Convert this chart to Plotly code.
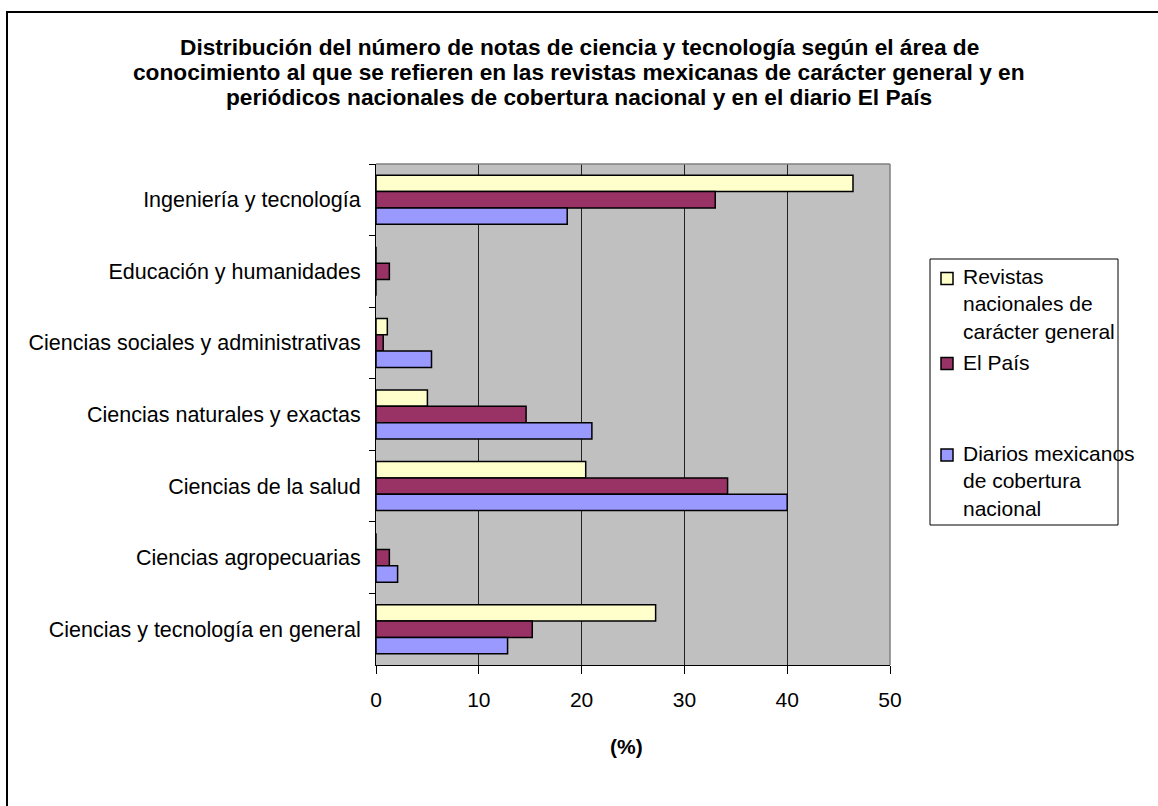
import plotly.graph_objects as go

categories = ["Ingeniería y tecnología", "Educación y humanidades",
              "Ciencias sociales y administrativas", "Ciencias naturales y exactas",
              "Ciencias de la salud", "Ciencias agropecuarias",
              "Ciencias y tecnología en general"]
revistas = [46.4, 0, 1.1, 5.0, 20.4, 0, 27.2]
el_pais = [33.0, 1.3, 0.7, 14.6, 34.2, 1.3, 15.2]
diarios = [18.6, 0, 5.4, 21.0, 40.0, 2.1, 12.8]
series_names = ["Revistas<br>nacionales de<br>carácter general", "El País",
                "Diarios mexicanos<br>de cobertura<br>nacional"]
series_colors = ["#FFFFCC", "#993366", "#9999FF"]
x_ticks = [0, 10, 20, 30, 40, 50]
title_lines = ["Distribución del número de notas de ciencia y tecnología según el área de",
               "conocimiento al que se refieren en las revistas mexicanas de carácter general y en",
               "periódicos nacionales de cobertura nacional y en el diario El País"]
x_title = "(%)"

W, H = 1158, 806
L, R, T, B = 376, 890, 164, 665
FONT = "Arial, Liberation Sans, sans-serif"


def px(x):
    return (x - L) / (R - L)


def py(y):
    return (B - y) / (B - T)


fig = go.Figure()
for name, vals, col in zip(series_names, [revistas, el_pais, diarios], series_colors):
    fig.add_trace(go.Bar(y=categories, x=vals, orientation="h", name=name,
                         marker=dict(color=col, line=dict(color="black", width=1.5)),
                         showlegend=False))

shapes = []
# outer frame (top and left)
shapes.append(dict(type="line", xref="paper", yref="paper", x0=px(6), x1=px(1160),
                   y0=py(12), y1=py(12), line=dict(color="black", width=2)))
shapes.append(dict(type="line", xref="paper", yref="paper", x0=px(7), x1=px(7),
                   y0=py(11), y1=py(810), line=dict(color="black", width=2)))
# plot area top/right border
shapes.append(dict(type="line", xref="paper", yref="paper", x0=0, x1=1, y0=1, y1=1,
                   line=dict(color="#808080", width=1.5)))
shapes.append(dict(type="line", xref="paper", yref="paper", x0=1, x1=1, y0=0, y1=1,
                   line=dict(color="#808080", width=1.5)))
# legend box
shapes.append(dict(type="rect", xref="paper", yref="paper", x0=px(930), x1=px(1118),
                   y0=py(259), y1=py(525), line=dict(color="black", width=1),
                   fillcolor="white"))

annotations = []
for i, line in enumerate(title_lines):
    annotations.append(dict(text=line, xref="paper", yref="paper", x=px(579),
                            y=py(47 + 25 * i), xanchor="center", yanchor="middle",
                            showarrow=False,
                            font=dict(family=FONT, size=22.7, color="black", weight="bold")))
annotations.append(dict(text=x_title, xref="paper", yref="paper", x=px(626), y=py(747),
                        xanchor="center", yanchor="middle", showarrow=False,
                        font=dict(family=FONT, size=21, color="black", weight="bold")))

sym_y = [278.5, 363.5, 455]
text_top = [263, 349, 440]
for name, col, sy, ty in zip(series_names, series_colors, sym_y, text_top):
    shapes.append(dict(type="rect", xref="paper", yref="paper", x0=px(941), x1=px(953),
                       y0=py(sy - 6), y1=py(sy + 6), fillcolor=col,
                       line=dict(color="black", width=1.5)))
    annotations.append(dict(text=name, xref="paper", yref="paper", x=px(961), y=py(ty),
                            xanchor="left", yanchor="top", align="left", showarrow=False,
                            font=dict(family=FONT, size=21, color="black")))

fig.update_layout(
    width=W, height=H,
    margin=dict(l=L, r=W - R, t=T, b=H - B, pad=0),
    paper_bgcolor="white", plot_bgcolor="#C0C0C0",
    barmode="group", bargap=0.315, bargroupgap=0,
    font=dict(family=FONT, size=21, color="black"),
    shapes=shapes, annotations=annotations,
    showlegend=False,
)
fig.update_xaxes(range=[0, 50], tickvals=x_ticks, ticks="outside", ticklen=8,
                 tickcolor="black", showline=True, linecolor="black", linewidth=1,
                 showgrid=True, gridcolor="#222222", gridwidth=1, zeroline=False,
                 ticklabelstandoff=8, tickfont=dict(family=FONT, size=21, color="black"))
fig.update_yaxes(type="category", categoryorder="array", categoryarray=categories,
                 autorange="reversed", ticks="outside", ticklen=6, tickcolor="black",
                 tickson="boundaries", showline=True, linecolor="black", linewidth=1,
                 showgrid=False, ticklabelstandoff=10,
                 tickfont=dict(family=FONT, size=21.5, color="black"))

fig.write_html("out.html", config={"displayModeBar": False},
               post_script="document.body.style.margin='0';document.body.style.overflow='hidden';")
